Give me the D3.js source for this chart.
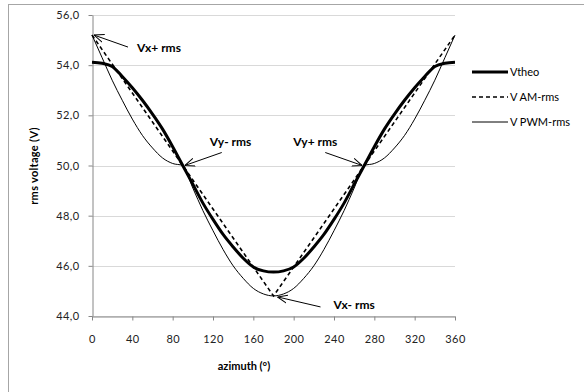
<!DOCTYPE html>
<html>
<head>
<meta charset="utf-8">
<script src="https://cdn.jsdelivr.net/npm/d3@7"></script>
<style>
  body { margin: 0; background: #fff; }
  text { font-family: Lato, "Open Sans", sans-serif; }
</style>
</head>
<body>
<div id="chart"></div>
<script>
// data
var azimuth = [0,10,20,30,40,50,60,70,80,90,100,110,120,130,140,150,160,170,180,
               190,200,210,220,230,240,250,260,270,280,290,300,310,320,330,340,350,360];
var vTheo = [54.12,54.08,53.95,53.55,53.1,52.6,52.05,51.45,50.75,50.0,49.25,48.5,47.85,47.25,46.75,46.3,45.95,45.8,45.75,
             45.8,45.95,46.3,46.75,47.25,47.85,48.5,49.25,50.0,50.75,51.45,52.05,52.6,53.1,53.55,53.95,54.08,54.12];
var vPWM = [55.2,54.3,53.4,52.6,51.85,51.2,50.7,50.3,50.08,50.0,49.1,48.2,47.4,46.65,46.0,45.5,45.1,44.88,44.8,
            44.88,45.1,45.5,46.0,46.65,47.4,48.2,49.1,50.0,50.08,50.3,50.7,51.2,51.85,52.6,53.4,54.3,55.2];
var amAzimuth = [0, 90, 180, 270, 360];
var vAM = [55.2, 50.0, 44.8, 50.0, 55.2];

var xTicks = [0,40,80,120,160,200,240,280,320,360];
var yTicks = [44,46,48,50,52,54,56];
var seriesNames = ["Vtheo", "V AM-rms", "V PWM-rms"];

// annotations: label, data point, tip/tail/label offsets in px
var notes = [
  {label: "Vx+ rms", az: 0,   v: 55.2, tip: [2, 0],  tail: [36, 12],  text: [45, 17]},
  {label: "Vy- rms", az: 90,  v: 50.0, tip: [2, 0],  tail: [39, -13], text: [27, -20]},
  {label: "Vy+ rms", az: 270, v: 50.0, tip: [-2, 0], tail: [-39, -13], text: [-71, -20]},
  {label: "Vx- rms", az: 180, v: 44.8, tip: [4, 1],  tail: [47, 11],  text: [60, 13]}
];

var W = 584, H = 392;
var svg = d3.select("#chart").append("svg")
    .attr("width", W)
    .attr("height", H);

// chart frame
svg.append("rect")
    .attr("x", 8.5).attr("y", 4.5)
    .attr("width", W + 20).attr("height", H + 20)
    .attr("fill", "#fff")
    .attr("stroke", "#a6a6a6");

var x = d3.scaleLinear().domain([0, 360]).range([92, 455]);
var y = d3.scaleLinear().domain([44, 56]).range([316, 15]);

// gridlines
svg.append("g")
    .selectAll("line")
    .data(yTicks)
    .enter()
    .append("line")
    .attr("x1", x(0)).attr("x2", x(360))
    .attr("y1", d => Math.round(y(d)) + 0.5)
    .attr("y2", d => Math.round(y(d)) + 0.5)
    .attr("stroke", "#d9d9d9")
    .attr("stroke-width", 1.2);

// Y axis
svg.append("g")
    .attr("transform", "translate(" + (x(0) + 0.5) + ",0)")
    .call(d3.axisLeft(y).tickValues(yTicks).tickSize(4).tickSizeOuter(0).tickPadding(9)
        .tickFormat(d => d3.format(".1f")(d).replace(".", ",")));

// X axis
svg.append("g")
    .attr("transform", "translate(0," + (y(44) + 0.5) + ")")
    .call(d3.axisBottom(x).tickValues(xTicks).tickSize(4).tickSizeOuter(0).tickPadding(15));

svg.selectAll(".domain, .tick line").attr("stroke", "#868686");
svg.selectAll(".tick text")
    .style("font-size", "11px")
    .style("letter-spacing", "0.4px")
    .attr("fill", "#222");

// axis titles
svg.append("text")
    .attr("x", 244)
    .attr("y", 370)
    .attr("text-anchor", "middle")
    .style("font-size", "11px")
    .style("font-weight", "bold")
    .text("azimuth (°)");

svg.append("text")
    .attr("transform", "translate(38,166) rotate(-90)")
    .attr("text-anchor", "middle")
    .style("font-size", "11px")
    .style("font-weight", "bold")
    .style("letter-spacing", "0.3px")
    .text("rms voltage (V)");

// lines
var smooth = d3.line()
    .x(d => x(d[0]))
    .y(d => y(d[1]))
    .curve(d3.curveMonotoneX);
var straight = d3.line()
    .x(d => x(d[0]))
    .y(d => y(d[1]));

var theoPts = azimuth.map((a, i) => [a, vTheo[i]]);
var amPts = amAzimuth.map((a, i) => [a, vAM[i]]);
var pwmPts = azimuth.map((a, i) => [a, vPWM[i]]);

var styles = [
  {width: 3, dash: null},
  {width: 1.6, dash: "4,3"},
  {width: 1, dash: null}
];

[theoPts, amPts, pwmPts].forEach(function (pts, i) {
    svg.append("path")
        .datum(pts)
        .attr("fill", "none")
        .attr("stroke", "#000")
        .attr("stroke-width", styles[i].width)
        .attr("stroke-dasharray", styles[i].dash)
        .attr("d", i == 1 ? straight : smooth);
});

// legend
var legend = svg.append("g");
seriesNames.forEach(function (name, i) {
    var ly = 72 + i * 25;
    legend.append("line")
        .attr("x1", 472).attr("x2", 508)
        .attr("y1", ly).attr("y2", ly)
        .attr("stroke", "#000")
        .attr("stroke-width", styles[i].width)
        .attr("stroke-dasharray", styles[i].dash);
    legend.append("text")
        .attr("x", 510)
        .attr("y", ly + 4)
        .style("font-size", "11px")
        .text(name);
});

// arrow marker (open head)
svg.append("defs").append("marker")
    .attr("id", "arrow")
    .attr("viewBox", "0 0 10 10")
    .attr("refX", 10).attr("refY", 5)
    .attr("markerWidth", 10).attr("markerHeight", 10)
    .attr("markerUnits", "userSpaceOnUse")
    .attr("orient", "auto")
    .append("path")
    .attr("d", "M0,1 L10,5 L0,9")
    .attr("fill", "none")
    .attr("stroke", "#000")
    .attr("stroke-width", 1);

notes.forEach(function (n) {
    var px = x(n.az), py = y(n.v);
    svg.append("line")
        .attr("x1", px + n.tail[0]).attr("y1", py + n.tail[1])
        .attr("x2", px + n.tip[0]).attr("y2", py + n.tip[1])
        .attr("stroke", "#000")
        .attr("stroke-width", 1)
        .attr("marker-end", "url(#arrow)");
    svg.append("text")
        .attr("x", px + n.text[0])
        .attr("y", py + n.text[1])
        .style("font-size", "12px")
        .style("font-weight", "bold")
        .text(n.label);
});
</script>
</body>
</html>
